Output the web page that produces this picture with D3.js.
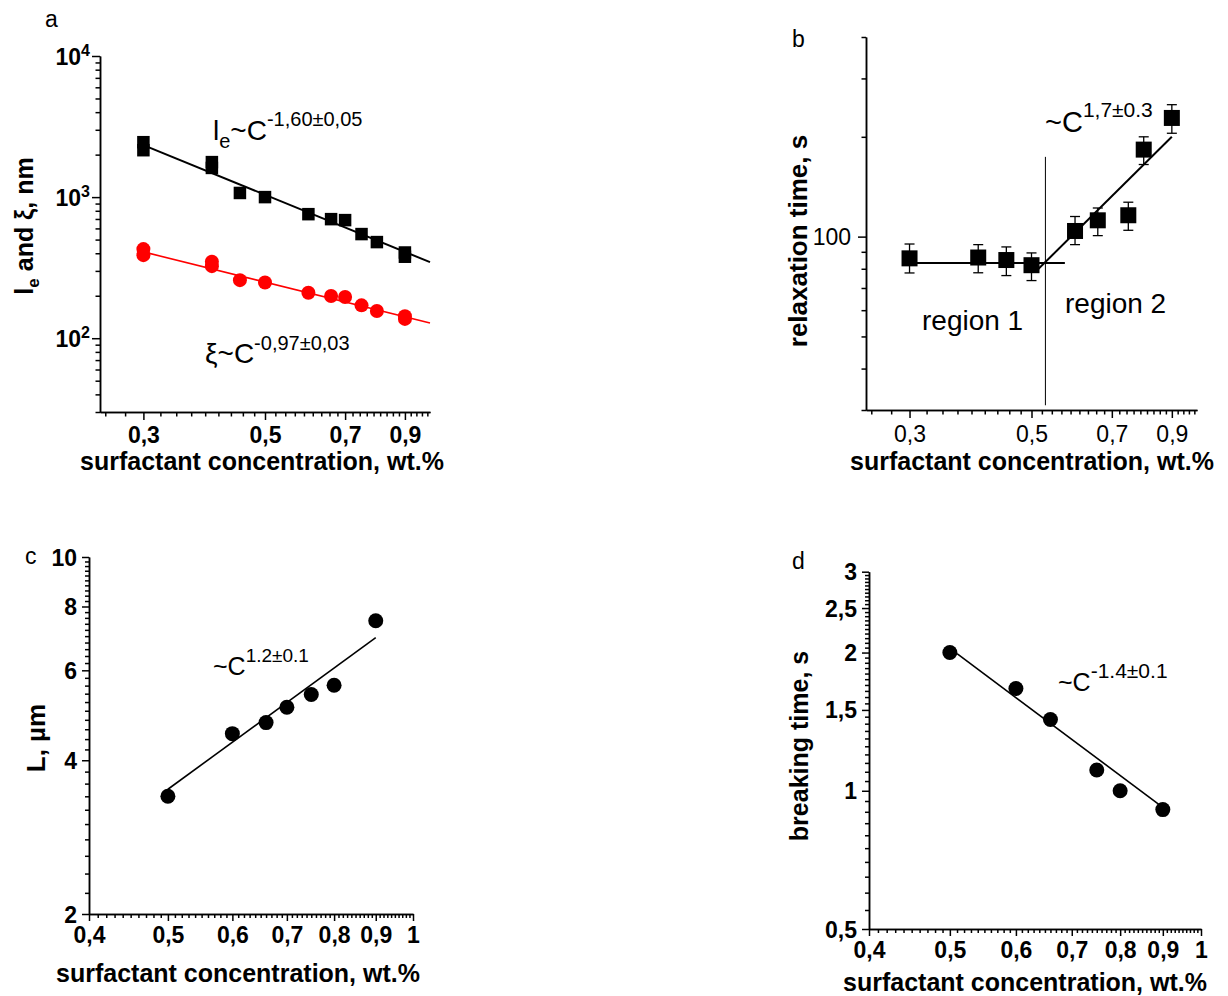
<!DOCTYPE html>
<html>
<head>
<meta charset="utf-8">
<style>
  body { margin: 0; background: #fff; }
  svg text { font-family: "Liberation Sans", Arial, sans-serif; fill: #000; }
</style>
<title>Surfactant concentration dependences</title>
</head>
<body>
<svg id="chart" width="1228" height="996"></svg>
<script src="https://cdn.jsdelivr.net/npm/d3@7/dist/d3.min.js"></script>
<script>

/*========== Data ==========*/

// panel a: l_e (squares) and xi (red circles), nm
var aConc    = [0.3, 0.3, 0.4, 0.4, 0.45, 0.5, 0.6, 0.66, 0.7, 0.75, 0.8, 0.9, 0.9];
var aLe      = [2450, 2150, 1770, 1610, 1070, 1000, 757, 698, 687, 547, 480, 405, 378];
var aXi      = [428, 388, 348, 324, 258, 248, 210, 199, 196, 171, 156, 143, 137];
var aFitConc = [0.3, 1.0];
var aLeFit   = [2336, 346];
var aXiFit   = [409, 128];

// panel b: relaxation time, s (with error bars)
var bConc   = [0.3, 0.4, 0.45, 0.5, 0.6, 0.66, 0.75, 0.8, 0.9];
var bTau    = [86, 86.5, 85, 82, 104, 112, 116, 183, 228];
var bTauLo  = [77.7, 77.8, 76.3, 73.7, 94.6, 100.7, 104.5, 165, 205];
var bTauHi  = [95, 94.6, 93.1, 89.3, 115, 122, 127, 200, 250];
var bFlatConc = [0.3, 0.575];
var bFlatTau  = [83.3, 83.3];
var bRiseConc = [0.515, 0.9];
var bRiseTau  = [80, 200];
var bBorderConc = [0.53, 0.53];
var bBorderTau  = [31, 174];

// panel c: L, um
var cConc      = [0.5, 0.6, 0.66, 0.7, 0.75, 0.8, 0.9];
var cLength    = [3.40, 4.51, 4.74, 5.08, 5.38, 5.61, 7.5];
var cFitConc   = [0.5, 0.9];
var cFitLength = [3.51, 6.95];

// panel d: breaking time, s
var dConc    = [0.5, 0.6, 0.66, 0.75, 0.8, 0.9];
var dTime    = [2.0, 1.67, 1.43, 1.11, 1.0, 0.91];
var dFitConc = [0.51, 0.9];
var dFitTime = [1.99, 0.92];

// tick labels
var abXTicks = [0.3, 0.5, 0.7, 0.9];
var aYTicks  = [100, 1000, 10000];
var bYTicks  = [100];
var cdXTicks = [0.4, 0.5, 0.6, 0.7, 0.8, 0.9, 1];
var cYTicks  = [2, 4, 6, 8, 10];
var dYTicks  = [0.5, 1, 1.5, 2, 2.5, 3];

var XTITLE = 'surfactant concentration, wt.%';

/*========== Helpers ==========*/

var svg = d3.select('#chart');
var comma = d => String(d).replace('.', ',');
var zip = (xs, ys) => xs.map((x, i) => [x, ys[i]]);

// minor tick values
function range(from, to, step, skip) {
    var out = [];
    for (var k = 0; from + k * step <= to + 1e-9; k++) {
        var v = +(from + k * step).toFixed(4);
        if (!skip(v)) out.push(v);
    }
    return out;
}
var abXMinor = range(0.3 - 2 * 0.2 / 9, 1.0, 0.2 / 9, v => abXTicks.some(t => Math.abs(t - v) < 1e-3));
var logMinor = (lo, hi) => [10, 100, 1000].flatMap(e => d3.range(2, 10).map(m => m * e)).filter(v => v >= lo && v <= hi);
var cdXMinor = range(0.4, 1.0, 0.01, v => cdXTicks.some(t => Math.abs(t - v) < 1e-4));
var cYMinor  = range(2, 10, 0.2, v => cYTicks.some(t => Math.abs(t - v) < 1e-4));
var dYMinor  = range(0.5, 3, 0.05, v => dYTicks.some(t => Math.abs(t - v) < 1e-4));

function styleAxis(g, weight) {
    g.attr('font-family', null).attr('font-size', null);
    g.selectAll('path, line').attr('stroke', '#000').attr('stroke-width', 1.5);
    g.selectAll('text').attr('font-size', 23).attr('font-weight', weight);
}

function drawAxes(p) {
    var y0 = p.y.range()[0], x0 = p.x.range()[0];
    // x axis: minor, then major
    svg.append('g').attr('transform', `translate(0,${y0})`)
        .call(d3.axisBottom(p.x).tickValues(p.xMinor).tickSize(p.minor).tickSizeOuter(0).tickFormat(''))
        .call(g => styleAxis(g, p.weight));
    var xg = svg.append('g').attr('transform', `translate(0,${y0})`)
        .call(d3.axisBottom(p.x).tickValues(p.xMajor).tickSize(p.major).tickSizeOuter(0).tickFormat(comma))
        .call(g => styleAxis(g, p.weight));
    xg.selectAll('.tick text').attr('y', p.xLabelOffset).attr('dy', 0);

    // y axis
    svg.append('g').attr('transform', `translate(${x0},0)`)
        .call(d3.axisLeft(p.y).tickValues(p.yMinor).tickSize(p.minor).tickSizeOuter(0).tickFormat(''))
        .call(g => styleAxis(g, p.weight));
    var yg = svg.append('g').attr('transform', `translate(${x0},0)`)
        .call(d3.axisLeft(p.y).tickValues(p.yMajor).tickSize(p.major).tickSizeOuter(0).tickFormat(p.yFmt || comma))
        .call(g => styleAxis(g, p.weight));
    yg.selectAll('.tick text').attr('x', -p.yLabelOffset).attr('dy', '0.35em');
    return yg;
}

function xTitle(cx, y) {
    svg.append('text').text(XTITLE)
        .attr('x', cx).attr('y', y)
        .attr('text-anchor', 'middle')
        .attr('font-size', 25).attr('font-weight', 'bold');
}

function yTitle(x, cy, size) {
    return svg.append('text')
        .attr('transform', `translate(${x},${cy}) rotate(-90)`)
        .attr('text-anchor', 'middle')
        .attr('font-size', size).attr('font-weight', 'bold');
}

// "~C^power" style annotation
function power(x, y, base, sup, size, supSize, rise) {
    var t = svg.append('text').attr('x', x).attr('y', y).attr('font-size', size);
    t.append('tspan').text(base);
    t.append('tspan').attr('dy', -rise).attr('font-size', supSize).text(sup);
    return t;
}

function panelLabel(text, x, y) {
    svg.append('text').text(text).attr('x', x).attr('y', y).attr('font-size', 23);
}

function fitLine(x, y, xs, ys, color, width) {
    svg.append('path')
        .datum(zip(xs, ys))
        .attr('d', d3.line().x(d => x(d[0])).y(d => y(d[1])))
        .attr('fill', 'none')
        .attr('stroke', color)
        .attr('stroke-width', width);
}

function squares(x, y, xs, ys, size) {
    svg.append('g').selectAll('rect')
        .data(zip(xs, ys)).enter().append('rect')
            .attr('x', d => x(d[0]) - size / 2)
            .attr('y', d => y(d[1]) - size / 2)
            .attr('width', size).attr('height', size)
            .attr('fill', '#000');
}

function circles(x, y, xs, ys, r, color) {
    svg.append('g').selectAll('circle')
        .data(zip(xs, ys)).enter().append('circle')
            .attr('cx', d => x(d[0]))
            .attr('cy', d => y(d[1]))
            .attr('r', r)
            .attr('fill', color);
}

/*========== Panel a ==========*/

var ax = d3.scaleLog().domain([0.25, 1.0]).range([100, 430]);
var ay = d3.scaleLog().domain([30, 10000]).range([412, 56]);

var ayAxis = drawAxes({x: ax, y: ay, xMajor: abXTicks, xMinor: abXMinor,
    yMajor: aYTicks, yMinor: logMinor(30, 10000), major: 8, minor: 4.5,
    weight: 'bold', xLabelOffset: 31, yLabelOffset: 10, yFmt: d => d});
ayAxis.selectAll('.tick text').text(null).each(function(d) {
    var t = d3.select(this);
    t.append('tspan').text('10');
    t.append('tspan').attr('dy', -9).attr('font-size', 16).text(Math.round(Math.log10(d)));
});

fitLine(ax, ay, aFitConc, aLeFit, '#000', 2);
fitLine(ax, ay, aFitConc, aXiFit, '#ff0000', 1.6);
squares(ax, ay, aConc, aLe, 12.5);
circles(ax, ay, aConc, aXi, 7, '#ff0000');

var lt = svg.append('text').attr('x', 213).attr('y', 140).attr('font-size', 28);
lt.append('tspan').text('l');
lt.append('tspan').attr('dy', 8).attr('font-size', 20).text('e');
lt.append('tspan').attr('dy', -8).text('~C');
lt.append('tspan').attr('dy', -14).attr('font-size', 20).text('-1,60\u00b10,05');

power(205, 363, '\u03be~C', '-0,97\u00b10,03', 28, 20, 13);

var at = yTitle(33, 226, 25);
at.append('tspan').text('l');
at.append('tspan').attr('dy', 6).attr('font-size', 17).text('e');
at.append('tspan').attr('dy', -6).text(' and \u03be, nm');

xTitle(262, 470);
panelLabel('a', 45, 27);

/*========== Panel b ==========*/

var bx = d3.scaleLog().domain([0.25, 1.0]).range([866, 1197]);
var by = d3.scaleLog().domain([30, 400]).range([410, 37]);

drawAxes({x: bx, y: by, xMajor: abXTicks, xMinor: abXMinor,
    yMajor: bYTicks, yMinor: logMinor(30, 400), major: 8, minor: 4.5,
    weight: 'normal', xLabelOffset: 32, yLabelOffset: 15});

// boundary between regions
fitLine(bx, by, bBorderConc, bBorderTau, '#000', 1);
fitLine(bx, by, bFlatConc, bFlatTau, '#000', 2);
fitLine(bx, by, bRiseConc, bRiseTau, '#000', 2);

// error bars
var eb = svg.append('g').attr('stroke', '#000').attr('stroke-width', 1.3);
bConc.forEach(function(c, i) {
    var xc = bx(c);
    eb.append('line').attr('x1', xc).attr('x2', xc).attr('y1', by(bTauLo[i])).attr('y2', by(bTauHi[i]));
    eb.append('line').attr('x1', xc - 5).attr('x2', xc + 5).attr('y1', by(bTauLo[i])).attr('y2', by(bTauLo[i]));
    eb.append('line').attr('x1', xc - 5).attr('x2', xc + 5).attr('y1', by(bTauHi[i])).attr('y2', by(bTauHi[i]));
});
squares(bx, by, bConc, bTau, 16);

power(1045, 132, '~C', '1,7\u00b10.3', 29, 21, 15);
svg.append('text').text('region 1').attr('x', 922).attr('y', 330).attr('font-size', 28);
svg.append('text').text('region 2').attr('x', 1065).attr('y', 313).attr('font-size', 28);

yTitle(807, 241, 26).text('relaxation time, s');
xTitle(1032, 470);
panelLabel('b', 792, 47);

/*========== Panel c ==========*/

var cx = d3.scaleLog().domain([0.4, 1]).range([89, 413]);
var cy = d3.scaleLog().domain([2, 10]).range([914, 557]);

drawAxes({x: cx, y: cy, xMajor: cdXTicks, xMinor: cdXMinor,
    yMajor: cYTicks, yMinor: cYMinor, major: 7, minor: 4,
    weight: 'bold', xLabelOffset: 29, yLabelOffset: 12});

fitLine(cx, cy, cFitConc, cFitLength, '#000', 1.6);
circles(cx, cy, cConc, cLength, 7.5, '#000');
power(213, 675, '~C', '1.2\u00b10.1', 25, 19, 13);

yTitle(45, 738, 26).text('L, \u00b5m');
xTitle(238, 982);
panelLabel('c', 25, 564);

/*========== Panel d ==========*/

var dx = d3.scaleLog().domain([0.4, 1]).range([869, 1201]);
var dy = d3.scaleLog().domain([0.5, 3]).range([929, 571.7]);

drawAxes({x: dx, y: dy, xMajor: cdXTicks, xMinor: cdXMinor,
    yMajor: dYTicks, yMinor: dYMinor, major: 7, minor: 4,
    weight: 'bold', xLabelOffset: 29, yLabelOffset: 12});

fitLine(dx, dy, dFitConc, dFitTime, '#000', 1.6);
circles(dx, dy, dConc, dTime, 7.5, '#000');
power(1058, 691, '~C', '-1.4\u00b10.1', 25, 21, 13);

yTitle(808, 746, 25).text('breaking time, s');
xTitle(1025, 991);
panelLabel('d', 792, 569);

</script>
</body>
</html>
